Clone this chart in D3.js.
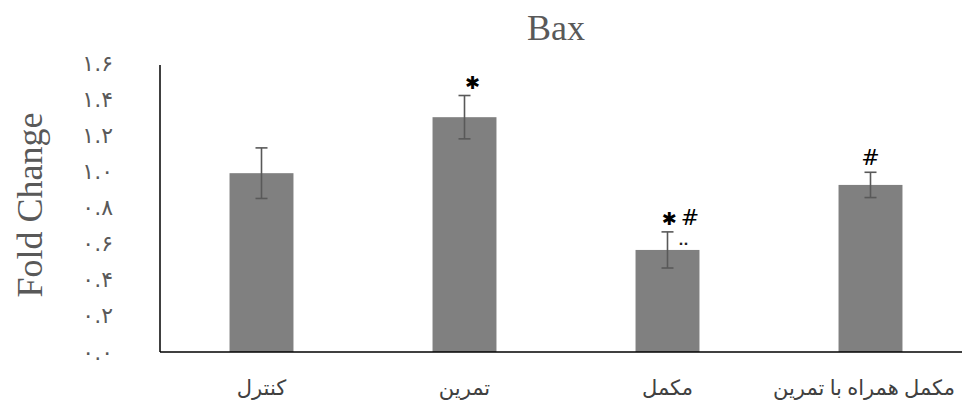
<!DOCTYPE html>
<html><head><meta charset="utf-8">
<script src="https://cdn.jsdelivr.net/npm/d3@7"></script>
<style>body{margin:0;background:#fff}svg{display:block}</style>
</head><body><svg id="c" width="962" height="408"></svg>
<script>
const categories = ["کنترل", "تمرین", "مکمل", "مکمل همراه با تمرین"];
const values = [0.99, 1.30, 0.565, 0.925];
const errors = [0.14, 0.12, 0.10, 0.07];
const marks = ["", "✱", "✱#", "#"];
const yTicks = [0, 0.2, 0.4, 0.6, 0.8, 1.0, 1.2, 1.4, 1.6];
const title = "Bax";
const yLabel = "Fold Change";

const svg = d3.select("#c");
const x = d3.scaleBand().domain(categories).range([160, 972]).paddingInner(0.685).paddingOuter(0.3425);
const y = d3.scaleLinear().domain([0, 1.6]).range([352, 63]);
const fa = s => s.replace(/\d/g, d => "۰۱۲۳۴۵۶۷۸۹"[d]);

svg.append("text").attr("x", 556).attr("y", 40).attr("text-anchor", "middle")
  .attr("font-family", "Liberation Serif").attr("font-size", 36).attr("fill", "#595959").text(title);

svg.append("text").attr("transform", "translate(42,205) rotate(-90)").attr("text-anchor", "middle")
  .attr("font-family", "Liberation Serif").attr("font-size", 36).attr("fill", "#595959").text(yLabel);

const yAxis = d3.axisLeft(y).tickValues(yTicks).tickSize(0).tickPadding(47)
  .tickFormat(d => fa(d3.format(".1f")(d)));
const ga = svg.append("g").attr("transform", "translate(160,0)").call(yAxis);
ga.select(".domain").remove();
ga.selectAll("text").attr("font-family", "DejaVu Sans").attr("font-size", 22).attr("fill", "#595959");

svg.append("g").selectAll("rect").data(categories).join("rect")
  .attr("x", d => x(d)).attr("width", x.bandwidth())
  .attr("y", (d, i) => y(values[i])).attr("height", (d, i) => y(0) - y(values[i]))
  .attr("fill", "#808080");

const eg = svg.append("g").attr("stroke", "#595959").attr("stroke-width", 1.6);
categories.forEach((c, i) => {
  const cx = x(c) + x.bandwidth() / 2;
  const t = y(values[i] + errors[i]), b = y(values[i] - errors[i]);
  eg.append("line").attr("x1", cx).attr("x2", cx).attr("y1", t).attr("y2", b);
  eg.append("line").attr("x1", cx - 6).attr("x2", cx + 6).attr("y1", t).attr("y2", t);
  eg.append("line").attr("x1", cx - 6).attr("x2", cx + 6).attr("y1", b).attr("y2", b);
  if (marks[i]) {
    const off = marks[i].length > 1 ? 13 : (marks[i] === "#" ? 0 : 8);
    const txt = svg.append("text").attr("x", cx + off).attr("y", t - 7).attr("text-anchor", "middle")
      .attr("fill", "#000");
    [...marks[i]].forEach((ch, k) => {
      txt.append("tspan").text(ch)
        .attr("font-family", "DejaVu Sans")
        .attr("font-size", ch === "#" ? 22 : 18)
        .attr("dx", k > 0 ? 4 : 0);
    });
  }
});
// small dots next to the third error bar
svg.append("text").attr("x", x(categories[2]) + x.bandwidth() / 2 + 11).attr("y", y(values[2]) - 5)
  .attr("font-family", "DejaVu Sans").attr("font-size", 13).attr("font-weight", "bold").attr("fill", "#222").text("..");

svg.append("line").attr("x1", 160).attr("x2", 160).attr("y1", 65).attr("y2", 352).attr("stroke", "#000").attr("stroke-width", 1.5);
svg.append("line").attr("x1", 160).attr("x2", 962).attr("y1", 352).attr("y2", 352).attr("stroke", "#000").attr("stroke-width", 1.5);

svg.append("g").selectAll("text").data(categories).join("text")
  .attr("x", (d, i) => Math.min(x(d) + x.bandwidth() / 2, 864)).attr("y", 395)
  .attr("text-anchor", "middle").attr("font-family", "Liberation Serif, DejaVu Sans")
  .attr("font-size", 21).attr("fill", "#404040").text(d => d);
</script></body></html>
